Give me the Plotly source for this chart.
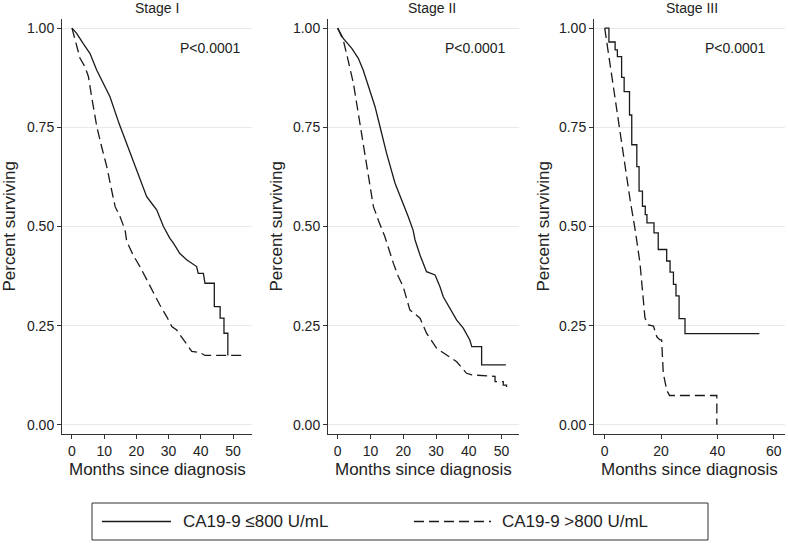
import plotly.graph_objects as go

W, H = 788, 544

# ---------------- data ----------------
stages = ["Stage I", "Stage II", "Stage III"]
group_names = ["CA19-9 ≤800 U/mL", "CA19-9 >800 U/mL"]
p_values = ["P<0.0001", "P<0.0001", "P<0.0001"]
y_ticks = [0.0, 0.25, 0.5, 0.75, 1.0]
y_tick_labels = ["0.00", "0.25", "0.50", "0.75", "1.00"]
x_ticks_12 = [0, 10, 20, 30, 40, 50]
x_ticks_3 = [0, 20, 40, 60]

# Stage I
s1_low_t = [0, 1.45, 3.5, 5.6, 7.7, 9.7, 11.8, 14.6, 16.5, 18.0, 20.1, 21.6, 23.2, 24.8, 26.3,
            28.4, 30.4, 31.5, 33.5, 35.6, 37.7, 38.7, 39.2, 40.8, 41.3, 44.2, 44.2, 46.0, 46.0,
            47.2, 47.2, 48.4, 48.4]
s1_low_s = [1.0, 0.987, 0.961, 0.936, 0.894, 0.861, 0.827, 0.76, 0.718, 0.685, 0.643, 0.609, 0.575,
            0.558, 0.542, 0.50, 0.47, 0.458, 0.432, 0.416, 0.403, 0.399, 0.382, 0.382, 0.357, 0.357,
            0.298, 0.298, 0.269, 0.269, 0.231, 0.231, 0.175]
s1_high_t = [0, 0.9, 2.5, 4.0, 5.1, 6.1, 7.7, 9.2, 10.8, 12.3, 13.4, 14.9, 16.5, 17.0, 19.0, 21.1,
             23.2, 25.2, 27.3, 29.4, 31.0, 32.5, 35.1, 37.2, 39.8, 41.3, 52.7]
s1_high_s = [1.0, 0.974, 0.924, 0.903, 0.878, 0.827, 0.752, 0.701, 0.651, 0.592, 0.55, 0.525, 0.491,
             0.462, 0.428, 0.399, 0.365, 0.332, 0.302, 0.273, 0.248, 0.239, 0.21, 0.185, 0.182,
             0.175, 0.175]

# Stage II
s2_low_t = [0, 1.7, 4.3, 6.3, 7.8, 9.8, 11.4, 12.9, 14.9, 17.5, 20.0, 21.5, 23.0, 23.6, 25.1, 27.1,
            29.7, 31.2, 32.2, 34.2, 36.3, 38.3, 40.3, 40.9, 43.9, 43.9, 51.3]
s2_low_s = [1.0, 0.974, 0.949, 0.924, 0.894, 0.844, 0.802, 0.752, 0.685, 0.609, 0.558, 0.525, 0.491,
            0.466, 0.428, 0.386, 0.378, 0.348, 0.323, 0.294, 0.264, 0.244, 0.214, 0.197, 0.197,
            0.151, 0.151]
s2_high_t = [0, 1.7, 2.7, 3.7, 4.8, 5.8, 7.3, 8.3, 9.8, 10.9, 12.4, 14.4, 17.0, 18.5, 20.0, 22.0,
             25.1, 26.1, 27.1, 30.2, 33.2, 36.3, 39.3, 40.9, 48.0, 48.0, 50.5, 50.5, 51.5, 51.5]
s2_high_s = [1.0, 0.97, 0.936, 0.903, 0.861, 0.81, 0.735, 0.676, 0.60, 0.55, 0.516, 0.474, 0.407,
             0.374, 0.348, 0.29, 0.269, 0.248, 0.231, 0.193, 0.176, 0.159, 0.13, 0.126, 0.122,
             0.109, 0.109, 0.10, 0.10, 0.088]

# Stage III
s3_low_t = [0, 1.5, 3.7, 4.5, 6.0, 6.9, 8.8, 9.6, 11.4, 12.2, 13.4, 14.4, 15.0, 17.5, 19.0, 22.0,
            23.2, 24.4, 25.3, 26.4, 28.5, 54.9]
s3_low_s = [1.0, 0.965, 0.945, 0.928, 0.876, 0.84, 0.781, 0.706, 0.651, 0.589, 0.551, 0.53, 0.509,
            0.484, 0.442, 0.413, 0.385, 0.354, 0.325, 0.268, 0.23, 0.23]
s3_high_t = [0, 0.7, 1.9, 3.7, 5.4, 7.2, 9.0, 10.8, 12.5, 14.3, 15.5, 17.3, 18.5, 19.6, 20.2, 20.8,
             22.0, 23.0, 39.8, 39.8]
s3_high_s = [1.0, 0.966, 0.903, 0.819, 0.735, 0.651, 0.568, 0.492, 0.409, 0.269, 0.252, 0.249,
             0.222, 0.214, 0.214, 0.13, 0.088, 0.074, 0.074, 0.0]

# ---------------- layout helpers ----------------
def px(x):
    return x / W

def py(y):
    return 1 - y / H

FONT = "Liberation Sans, Arial, Helvetica, sans-serif"
INK = "#1a1a1a"
AXC = "#333333"
GRID = "#e9e9e9"

x_domains = [(62, 252), (328, 519), (594, 785)]
x_ranges = [[-3.1, 55.9], [-2.95, 55.3], [-3.8, 64.0]]
y_dom = [py(434), py(19)]
y_range = [-0.023, 1.023]

fig = go.Figure()

curves = [
    (s1_low_t, s1_low_s, s1_high_t, s1_high_s, "linear", "linear"),
    (s2_low_t, s2_low_s, s2_high_t, s2_high_s, "linear", "linear"),
    (s3_low_t, s3_low_s, s3_high_t, s3_high_s, "hv", "linear"),
]

for i, (lt, ls, ht, hs, shl, shh) in enumerate(curves):
    xa = "x" if i == 0 else f"x{i+1}"
    ya = "y" if i == 0 else f"y{i+1}"
    fig.add_trace(go.Scatter(x=lt, y=ls, mode="lines", name=group_names[0], xaxis=xa, yaxis=ya,
                             line=dict(color=INK, width=1.3, shape=shl), showlegend=False))
    fig.add_trace(go.Scatter(x=ht, y=hs, mode="lines", name=group_names[1], xaxis=xa, yaxis=ya,
                             line=dict(color=INK, width=1.3, dash="10px,5px", shape=shh),
                             showlegend=False))

layout = dict(
    width=W, height=H,
    margin=dict(l=0, r=0, t=0, b=0),
    paper_bgcolor="white", plot_bgcolor="white",
    font=dict(family=FONT, color="#222222"),
    showlegend=False,
)

for i in range(3):
    xk = "xaxis" if i == 0 else f"xaxis{i+1}"
    yk = "yaxis" if i == 0 else f"yaxis{i+1}"
    ya = "y" if i == 0 else f"y{i+1}"
    xa = "x" if i == 0 else f"x{i+1}"
    tv = x_ticks_3 if i == 2 else x_ticks_12
    layout[xk] = dict(
        domain=[px(x_domains[i][0]), px(x_domains[i][1])], anchor=ya, range=x_ranges[i],
        showgrid=False, zeroline=False, showline=True, linecolor=AXC, linewidth=1,
        ticks="outside", ticklen=4, tickcolor=AXC, tickwidth=1,
        tickvals=tv, ticktext=[str(v) for v in tv],
        tickfont=dict(size=14, family=FONT, color="#222222"), automargin=False,
    )
    layout[yk] = dict(
        domain=y_dom, anchor=xa, range=y_range,
        showgrid=True, gridcolor=GRID, gridwidth=1, zeroline=False,
        showline=True, linecolor=AXC, linewidth=1,
        ticks="outside", ticklen=4, tickcolor=AXC, tickwidth=1,
        tickvals=y_ticks, ticktext=y_tick_labels,
        tickfont=dict(size=14, family=FONT, color="#222222"), automargin=False,
    )

fig.update_layout(**layout)

ann = []
title_x = [157, 432, 692]
p_right = [243, 508, 768]
ytitle_x = [9, 276, 543]
for i in range(3):
    cx = (x_domains[i][0] + x_domains[i][1]) / 2
    ann.append(dict(text=stages[i], x=px(title_x[i]), y=py(7.5), xref="paper", yref="paper",
                    showarrow=False, xanchor="center", yanchor="middle",
                    font=dict(size=14, family=FONT, color="#222222")))
    ann.append(dict(text=p_values[i], x=px(p_right[i]), y=py(48), xref="paper", yref="paper",
                    showarrow=False, xanchor="right", yanchor="middle",
                    font=dict(size=14, family=FONT, color="#222222")))
    ann.append(dict(text="Months since diagnosis", x=px(cx), y=py(469), xref="paper", yref="paper",
                    showarrow=False, xanchor="center", yanchor="middle",
                    font=dict(size=17, family=FONT, color="#222222")))
    ann.append(dict(text="Percent surviving", x=px(ytitle_x[i]), y=py(226.5), xref="paper",
                    yref="paper", showarrow=False, xanchor="center", yanchor="middle",
                    textangle=-90, font=dict(size=17, family=FONT, color="#222222")))

# legend (drawn manually)
leg_y = 521.5
ann.append(dict(text=group_names[0], x=px(181), y=py(leg_y), xref="paper", yref="paper",
                showarrow=False, xanchor="left", yanchor="middle",
                font=dict(size=17, family=FONT, color="#222222")))
ann.append(dict(text=group_names[1], x=px(500), y=py(leg_y), xref="paper", yref="paper",
                showarrow=False, xanchor="left", yanchor="middle",
                font=dict(size=17, family=FONT, color="#222222")))

shapes = [
    dict(type="rect", xref="paper", yref="paper", x0=px(92), x1=px(708), y0=py(540), y1=py(503),
         line=dict(color=AXC, width=1), fillcolor="rgba(0,0,0,0)"),
    dict(type="line", xref="paper", yref="paper", x0=px(102), x1=px(171), y0=py(leg_y),
         y1=py(leg_y), line=dict(color=INK, width=1.3)),
    dict(type="line", xref="paper", yref="paper", x0=px(414), x1=px(491), y0=py(leg_y),
         y1=py(leg_y), line=dict(color=INK, width=1.3, dash="10px,5px")),
]

fig.update_layout(annotations=ann, shapes=shapes)
fig.write_html(
    "out.html",
    config={"displayModeBar": False, "staticPlot": True},
    post_script="document.body.style.margin='0';document.body.style.overflow='hidden';",
)
